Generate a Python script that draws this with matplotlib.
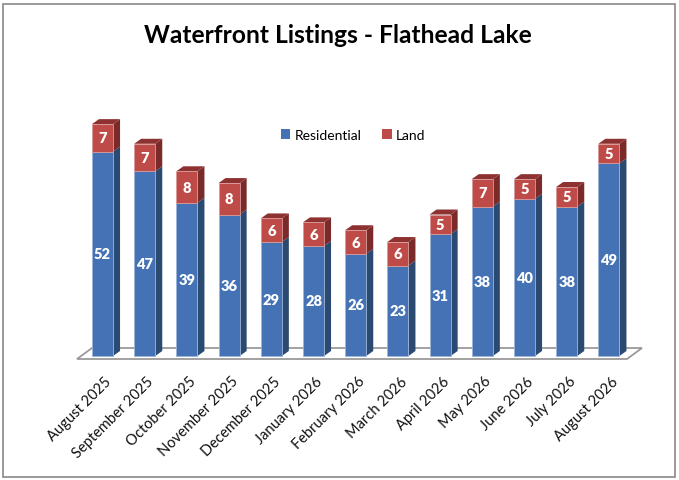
import matplotlib
matplotlib.use("Agg")
import matplotlib.pyplot as plt
from matplotlib.patches import Polygon, Rectangle, Patch

months = ["August 2025", "September 2025", "October 2025", "November 2025",
          "December 2025", "January 2026", "February 2026", "March 2026",
          "April 2026", "May 2026", "June 2026", "July 2026", "August 2026"]
residential = [52, 47, 39, 36, 29, 28, 26, 23, 31, 38, 40, 38, 49]
land = [7, 7, 8, 8, 6, 6, 6, 6, 5, 7, 5, 5, 5]

plt.rcParams['font.family'] = ['Lato', 'DejaVu Sans']

W, H = 679, 481
fig = plt.figure(figsize=(W / 100, H / 100), dpi=100)

# outer chart border
fig.patches.append(Rectangle((3 / W, 3 / H), 672 / W, 473 / H, transform=fig.transFigure,
                             fill=False, edgecolor="#878787", linewidth=1.2))

# axes placed in pixels: left 60, right 650, top 100, bottom 370
ax_l, ax_r, ax_t, ax_b = 60, 650, 100, 370
ax = fig.add_axes([ax_l / W, (H - ax_b) / H, (ax_r - ax_l) / W, (ax_b - ax_t) / H])
px_x = 42.2          # pixels per category
px_y = 3.93          # pixels per unit
x0 = (102.5 - ax_l) / px_x
ax.set_xlim(-x0, (ax_r - ax_l) / px_x - x0)
ax.set_ylim(-(ax_b - 357) / px_y, (357 - ax_t) / px_y)
ax.axis("off")

x = list(range(len(months)))
bw = 0.5
dx = 7 / px_x
dy = 5 / px_y

blue, blue_side, blue_top = "#4472B4", "#2B4A72", "#5A86C2"
red, red_side, red_top = "#BE4B48", "#7A2A29", "#8E3231"

# floor
fl = (77 - 102.5) / px_x
fr = (627 - 102.5) / px_x
fy0 = -3 / px_y
fy1 = 8 / px_y
fdx = 15 / px_x
ax.add_patch(Polygon([(fl, fy0), (fr, fy0), (fr + fdx, fy1), (fl + fdx, fy1)],
                     closed=True, facecolor="white", edgecolor="#9A9A9A", linewidth=1.3, zorder=1))

ax.bar(x, residential, width=bw, color=blue, edgecolor="#9DB5D8", linewidth=0.6, zorder=3)
ax.bar(x, land, width=bw, bottom=residential, color=red, edgecolor="#D89A98", linewidth=0.6, zorder=3)

for i in x:
    r, l = residential[i], land[i]
    xr = i + bw / 2
    xl = i - bw / 2
    ax.add_patch(Polygon([(xr, 0), (xr + dx, dy), (xr + dx, r + dy), (xr, r)],
                         closed=True, facecolor=blue_side, edgecolor="none", zorder=2))
    ax.add_patch(Polygon([(xr, r), (xr + dx, r + dy), (xr + dx, r + l + dy), (xr, r + l)],
                         closed=True, facecolor=red_side, edgecolor="none", zorder=2))
    top = r + l
    ax.add_patch(Polygon([(xl, top), (xr, top), (xr + dx, top + dy), (xl + dx, top + dy)],
                         closed=True, facecolor=red_top, edgecolor="none", zorder=2))
    ax.text(i, r / 2, str(r), ha="center", va="center", color="white",
            fontsize=10.5, fontweight="heavy", zorder=4)
    ax.text(i, r + l / 2, str(l), ha="center", va="center", color="white",
            fontsize=10.5, fontweight="heavy", zorder=4)
    ax.text(i + 0.05, -4.5, months[i], ha="right", va="top", rotation=45,
            rotation_mode="anchor", fontsize=10.5, color="#111111")

handles = [Patch(facecolor=blue, label="Residential"), Patch(facecolor=red, label="Land")]
fig.legend(handles=handles, loc="center", bbox_to_anchor=(353 / W, 1 - 136 / H), ncol=2,
           frameon=False, fontsize=10, handlelength=0.7, handleheight=0.7,
           handletextpad=0.3, columnspacing=1.5)

fig.text(338 / W, 1 - 43 / H, "Waterfront Listings - Flathead Lake", ha="center",
         va="baseline", fontsize=17.7, fontweight="bold")

fig.savefig("out.png", dpi=100)
